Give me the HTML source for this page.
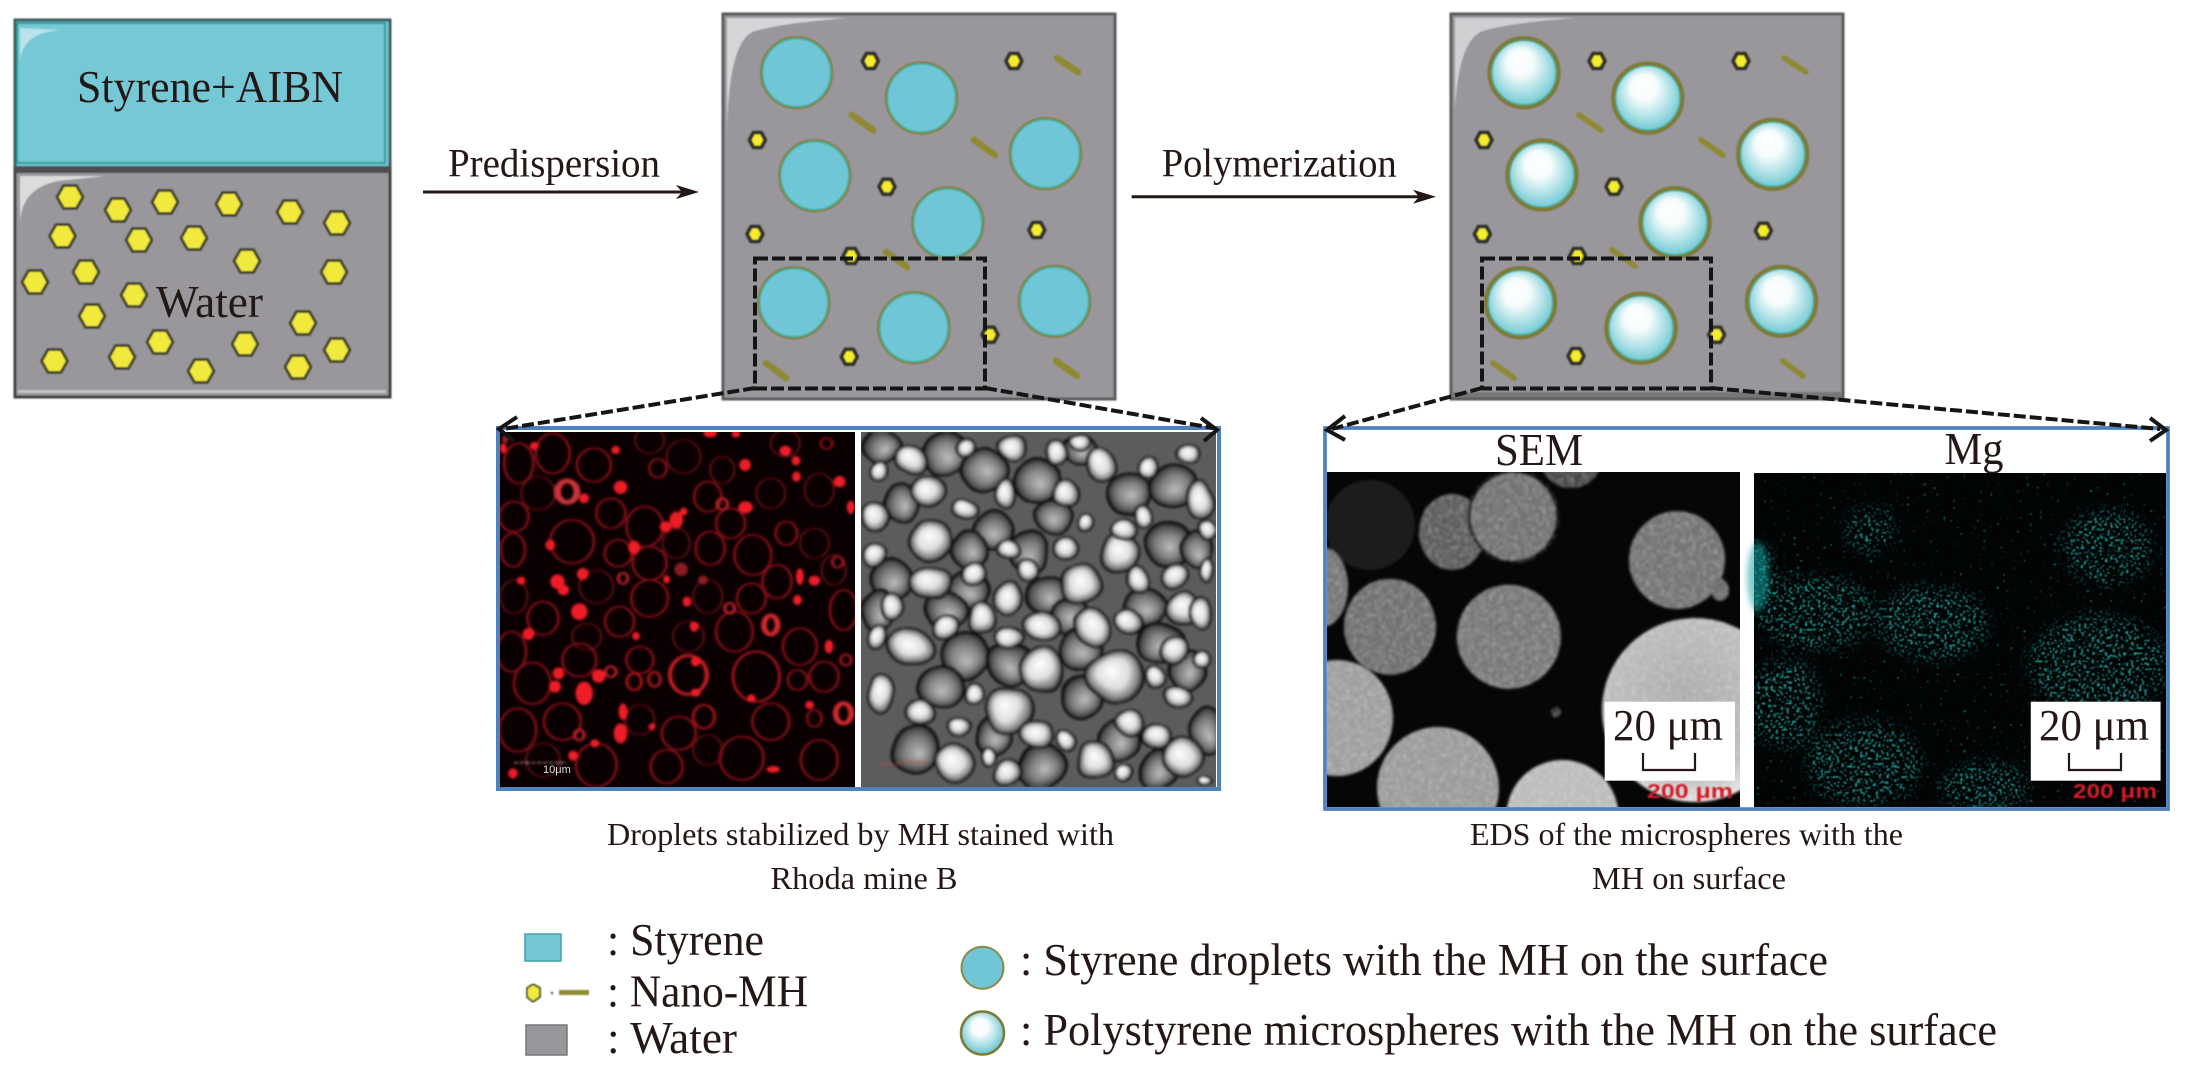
<!DOCTYPE html>
<html>
<head>
<meta charset="utf-8">
<style>
html,body{margin:0;padding:0;background:#fff;width:2185px;height:1073px;overflow:hidden}
svg{display:block}
text{font-family:"Liberation Serif",serif;fill:#231815}
</style>
</head>
<body>
<svg width="2185" height="1073" viewBox="0 0 2185 1073" xmlns="http://www.w3.org/2000/svg">
<defs>
  <polygon id="H" points="-13,0 -6.5,-11.5 6.5,-11.5 13,0 6.5,11.5 -6.5,11.5" fill="#f2e93c" stroke="#45442a" stroke-width="3" stroke-linejoin="round"/>
  <polygon id="h" points="-8,0 -4,-7.5 4,-7.5 8,0 4,7.5 -4,7.5" fill="#f5ec2e" stroke="#33332c" stroke-width="4" stroke-linejoin="round"/>
  <g id="D"><circle r="35.5" fill="#70c6d6" stroke="#85803c" stroke-width="2.5"/><circle r="34" fill="none" stroke="#2db39c" stroke-width="1.3"/></g>
  <radialGradient id="sph" cx="50%" cy="50%" r="60%" fx="42%" fy="28%">
    <stop offset="0" stop-color="#fff"/><stop offset=".32" stop-color="#f6fcfc"/><stop offset=".72" stop-color="#93d6de"/><stop offset="1" stop-color="#45b8c4"/>
  </radialGradient>
  <g id="P"><circle r="34.5" fill="url(#sph)" stroke="#7f7a30" stroke-width="4.5"/><circle r="32" fill="none" stroke="#2fb3a0" stroke-width="1.2"/></g>
  <radialGradient id="bub" cx="50%" cy="50%" r="50%" fx="42%" fy="38%">
    <stop offset="0" stop-color="#fff"/><stop offset=".55" stop-color="#dedede"/><stop offset=".85" stop-color="#808080"/><stop offset="1" stop-color="#1a1a1a"/>
  </radialGradient>
  <radialGradient id="bub2" cx="50%" cy="50%" r="50%" fx="55%" fy="60%">
    <stop offset="0" stop-color="#bcbcbc"/><stop offset=".55" stop-color="#808080"/><stop offset=".85" stop-color="#4c4c4c"/><stop offset="1" stop-color="#0c0c0c"/>
  </radialGradient>
  <radialGradient id="semF" cx="45%" cy="42%" r="60%">
    <stop offset="0" stop-color="#a9a9a9"/><stop offset=".75" stop-color="#bcbcbc"/><stop offset="1" stop-color="#e6e6e6"/>
  </radialGradient>
  <clipPath id="cR"><rect x="500" y="432" width="355" height="355"/></clipPath>
  <clipPath id="cG"><rect x="861" y="432" width="355" height="355"/></clipPath>
  <clipPath id="cS"><rect x="1327" y="472" width="413" height="335"/></clipPath>
  <filter id="b0" x="-2%" y="-2%" width="104%" height="104%"><feGaussianBlur stdDeviation=".7"/></filter>
  <filter id="b1" x="-5%" y="-5%" width="110%" height="110%"><feGaussianBlur stdDeviation="1.2"/></filter>
  <filter id="b2" x="-20%" y="-20%" width="140%" height="140%"><feGaussianBlur stdDeviation="3"/></filter>
  <filter id="bt" x="-5%" y="-20%" width="110%" height="140%"><feGaussianBlur stdDeviation=".7"/></filter>
  <filter id="warp" filterUnits="userSpaceOnUse" x="861" y="432" width="355" height="355" color-interpolation-filters="sRGB">
    <feTurbulence type="fractalNoise" baseFrequency=".035" numOctaves="1" seed="11" result="n"/>
    <feDisplacementMap in="SourceGraphic" in2="n" scale="10" xChannelSelector="R" yChannelSelector="G" result="d"/>
    <feGaussianBlur in="d" stdDeviation="1.2"/>
  </filter>
  <filter id="dots" filterUnits="userSpaceOnUse" x="1754" y="473" width="412" height="334" color-interpolation-filters="sRGB">
    <feGaussianBlur in="SourceGraphic" stdDeviation="7" result="bl"/>
    <feTurbulence type="fractalNoise" baseFrequency=".38" numOctaves="1" seed="7" result="n"/>
    <feColorMatrix in="n" type="matrix" values="0 0 0 0 .1  0 0 0 0 .6  0 0 0 0 .58  9 0 0 0 -4.9" result="d"/>
    <feComposite in="d" in2="bl" operator="in" result="c"/>
    <feGaussianBlur in="c" stdDeviation=".6"/>
  </filter>
  <filter id="sparse" filterUnits="userSpaceOnUse" x="1754" y="473" width="412" height="334" color-interpolation-filters="sRGB">
    <feTurbulence type="fractalNoise" baseFrequency=".3" numOctaves="1" seed="23" result="n"/>
    <feColorMatrix in="n" type="matrix" values="0 0 0 0 .08  0 0 0 0 .42  0 0 0 0 .42  12 0 0 0 -8.4" result="d"/>
    <feGaussianBlur in="d" stdDeviation=".6"/>
  </filter>
  <filter id="grain" x="0" y="0" width="100%" height="100%" color-interpolation-filters="sRGB">
    <feTurbulence type="fractalNoise" baseFrequency=".28" numOctaves="2" seed="4" result="n"/>
    <feColorMatrix in="n" type="matrix" values="0 0 0 0 1  0 0 0 0 1  0 0 0 0 1  1 0 0 0 -.42" result="w"/>
    <feComposite in="w" in2="SourceAlpha" operator="in" result="g"/>
    <feGaussianBlur in="g" stdDeviation=".7" result="gb"/>
    <feMerge><feMergeNode in="SourceGraphic"/><feMergeNode in="gb"/></feMerge>
  </filter>
</defs>

<g filter="url(#b0)">
<!-- Box 1 -->
<rect x="15" y="20" width="375" height="148" fill="#74c8d6" stroke="#3f5a5c" stroke-width="3"/>
<rect x="17" y="23" width="368" height="140" fill="none" stroke="#1f9a97" stroke-width="2"/>
<path d="M20 62 Q22 32 62 30 L20 28Z" fill="#b8e3ea"/>
<rect x="15" y="168" width="375" height="229" fill="#99979b" stroke="#404040" stroke-width="3"/>
<rect x="15" y="166" width="375" height="7" fill="#504d50"/>
<rect x="18" y="390" width="368" height="3" fill="#cfcfcf" opacity=".8"/>
<path d="M20 222 Q22 188 58 181 L105 176 L20 176Z" fill="#dcdcdc"/>
<use href="#H" x="70" y="197"/><use href="#H" x="118" y="210"/><use href="#H" x="165" y="202"/><use href="#H" x="229" y="204"/><use href="#H" x="290" y="212"/><use href="#H" x="337" y="223"/><use href="#H" x="62.5" y="236"/><use href="#H" x="139" y="240"/><use href="#H" x="194" y="238"/><use href="#H" x="247" y="261"/><use href="#H" x="334" y="272"/><use href="#H" x="86" y="272"/><use href="#H" x="35" y="282"/><use href="#H" x="134" y="295"/><use href="#H" x="92" y="316"/><use href="#H" x="303" y="323"/><use href="#H" x="160" y="342"/><use href="#H" x="245" y="344"/><use href="#H" x="337" y="350"/><use href="#H" x="54.5" y="361"/><use href="#H" x="122" y="357"/><use href="#H" x="201" y="371"/><use href="#H" x="298" y="367"/>

<!-- Box 2 -->
<rect x="723" y="14" width="392" height="385" fill="#99979b" stroke="#5a5a5a" stroke-width="3"/>
<path d="M727 135 Q728 45 752 32 Q775 24 846 18 L727 18Z" fill="#d6d6d8"/>
<use href="#D" x="796.6" y="72.7"/><use href="#D" x="921.5" y="98"/><use href="#D" x="814.8" y="175.7"/><use href="#D" x="1045.5" y="153.7"/><use href="#D" x="947.8" y="223"/><use href="#D" x="793.8" y="302.7"/><use href="#D" x="913.9" y="327.7"/><use href="#D" x="1054.5" y="301.3"/>
<use href="#h" x="870.3" y="61"/><use href="#h" x="1013.9" y="61"/><use href="#h" x="757.4" y="140"/><use href="#h" x="887" y="186.7"/><use href="#h" x="755" y="234"/><use href="#h" x="1036.8" y="230"/><use href="#h" x="851.2" y="256"/><use href="#h" x="990" y="334.7"/><use href="#h" x="849.3" y="356.7"/>
<g stroke="#8f8a30" stroke-width="7" stroke-linecap="round">
<line x1="1057" y1="58" x2="1078" y2="72"/><line x1="852" y1="115" x2="873" y2="130"/><line x1="974" y1="140" x2="995" y2="155"/><line x1="886" y1="252" x2="907" y2="267"/><line x1="766" y1="363" x2="786" y2="378"/><line x1="1056" y1="361" x2="1077" y2="376"/>
</g>

<!-- Box 3 -->
<rect x="1451" y="14" width="392" height="385" fill="#99979b" stroke="#5a5a5a" stroke-width="3"/>
<path d="M1455 110 Q1458 45 1480 32 Q1500 24 1574 18 L1455 18Z" fill="#d0d0d2"/>
<rect x="1453" y="392" width="388" height="6" fill="#6a6a6a" opacity=".7"/>
<use href="#P" x="1524" y="72.7"/><use href="#P" x="1647.8" y="98"/><use href="#P" x="1542" y="175"/><use href="#P" x="1772.7" y="154.3"/><use href="#P" x="1675" y="222.7"/><use href="#P" x="1520.5" y="302.7"/><use href="#P" x="1641" y="328.3"/><use href="#P" x="1781.5" y="301.3"/>
<use href="#h" x="1597" y="61"/><use href="#h" x="1741" y="61"/><use href="#h" x="1484" y="140"/><use href="#h" x="1614" y="186.7"/><use href="#h" x="1482.4" y="234"/><use href="#h" x="1763.4" y="230.7"/><use href="#h" x="1577.6" y="256"/><use href="#h" x="1716.6" y="334.7"/><use href="#h" x="1576" y="356"/>
<g stroke="#8f8a30" stroke-width="6" stroke-linecap="round">
<line x1="1784" y1="58" x2="1806" y2="72"/><line x1="1579" y1="115" x2="1601" y2="130"/><line x1="1701" y1="140" x2="1723" y2="155"/><line x1="1612" y1="250" x2="1635" y2="266"/><line x1="1493" y1="363" x2="1514" y2="378"/><line x1="1783" y1="361" x2="1803" y2="376"/>
</g>
</g>
<rect x="755" y="258.5" width="230" height="130" fill="none" stroke="#151515" stroke-width="4" stroke-dasharray="13 4"/>
<rect x="1482" y="258.5" width="229" height="130" fill="none" stroke="#151515" stroke-width="4" stroke-dasharray="13 4"/>

<!-- Labels box 1 -->
<text x="77" y="102" font-size="46" textLength="266" lengthAdjust="spacingAndGlyphs">Styrene+AIBN</text>
<text x="156" y="317" font-size="45" textLength="107" lengthAdjust="spacingAndGlyphs">Water</text>

<!-- Arrow 1 -->
<text x="448" y="176.5" font-size="40" textLength="212" lengthAdjust="spacingAndGlyphs">Predispersion</text>
<line x1="423" y1="192" x2="685" y2="192" stroke="#231815" stroke-width="3"/>
<polygon points="699,192 676,185 682,192 676,199" fill="#231815"/>

<!-- Arrow 2 -->
<text x="1161.7" y="176.5" font-size="40" textLength="235" lengthAdjust="spacingAndGlyphs">Polymerization</text>
<line x1="1131.6" y1="196.7" x2="1422" y2="196.7" stroke="#231815" stroke-width="3"/>
<polygon points="1436,196.7 1413,189.7 1419,196.7 1413,203.7" fill="#231815"/>

<!-- Left micrograph panel -->
<rect x="498" y="428" width="721" height="361" fill="#fff" stroke="#4f81bd" stroke-width="4"/>
<rect x="500" y="432" width="355" height="355" fill="#0a0002"/>
<g clip-path="url(#cR)">
<g filter="url(#b1)">
<g transform="translate(480,410) scale(.4847,.33333)">
<g fill="none" stroke="#4a080e" stroke-width="6">
<ellipse cx="420" cy="140" rx="35" ry="50"/><ellipse cx="120" cy="250" rx="35" ry="50"/><ellipse cx="600" cy="250" rx="30" ry="45"/><ellipse cx="700" cy="240" rx="30" ry="50"/><ellipse cx="405" cy="400" rx="28" ry="45"/><ellipse cx="240" cy="530" rx="35" ry="50"/><ellipse cx="470" cy="560" rx="30" ry="50"/><ellipse cx="690" cy="400" rx="30" ry="45"/><ellipse cx="730" cy="480" rx="25" ry="45"/><ellipse cx="430" cy="680" rx="32" ry="45"/><ellipse cx="220" cy="680" rx="30" ry="40"/><ellipse cx="70" cy="560" rx="28" ry="50"/><ellipse cx="330" cy="930" rx="30" ry="45"/><ellipse cx="470" cy="1020" rx="30" ry="45"/><ellipse cx="130" cy="1050" rx="35" ry="50"/><ellipse cx="630" cy="100" rx="30" ry="40"/><ellipse cx="500" cy="180" rx="25" ry="40"/><ellipse cx="350" cy="90" rx="30" ry="40"/>
</g>
<g fill="none" stroke="#7e0e16" stroke-width="6">
<ellipse cx="150" cy="130" rx="35" ry="60"/><ellipse cx="235" cy="165" rx="35" ry="50"/><ellipse cx="80" cy="160" rx="30" ry="60"/><ellipse cx="367" cy="175" rx="18" ry="28"/><ellipse cx="470" cy="260" rx="28" ry="45"/><ellipse cx="340" cy="350" rx="38" ry="60"/><ellipse cx="190" cy="395" rx="45" ry="65"/><ellipse cx="70" cy="320" rx="30" ry="45"/><ellipse cx="270" cy="310" rx="30" ry="45"/><ellipse cx="517" cy="340" rx="30" ry="45"/><ellipse cx="285" cy="430" rx="28" ry="40"/><ellipse cx="350" cy="460" rx="35" ry="50"/><ellipse cx="475" cy="415" rx="30" ry="50"/><ellipse cx="563" cy="435" rx="38" ry="60"/><ellipse cx="632" cy="370" rx="22" ry="35"/><ellipse cx="68" cy="420" rx="25" ry="50"/><ellipse cx="350" cy="565" rx="38" ry="55"/><ellipse cx="130" cy="625" rx="32" ry="50"/><ellipse cx="288" cy="635" rx="30" ry="45"/><ellipse cx="525" cy="665" rx="38" ry="60"/><ellipse cx="613" cy="515" rx="30" ry="50"/><ellipse cx="750" cy="600" rx="28" ry="60"/><ellipse cx="660" cy="710" rx="35" ry="55"/><ellipse cx="560" cy="565" rx="30" ry="45"/><ellipse cx="65" cy="725" rx="30" ry="60"/><ellipse cx="205" cy="750" rx="35" ry="50"/><ellipse cx="330" cy="750" rx="28" ry="40"/><ellipse cx="430" cy="795" rx="38" ry="58" stroke="#c01a24" stroke-width="9"/><ellipse cx="570" cy="800" rx="48" ry="75" stroke="#a8141c"/><ellipse cx="108" cy="820" rx="38" ry="62"/><ellipse cx="78" cy="960" rx="38" ry="65"/><ellipse cx="170" cy="935" rx="38" ry="55"/><ellipse cx="240" cy="1065" rx="42" ry="65"/><ellipse cx="385" cy="1070" rx="33" ry="50"/><ellipse cx="540" cy="1045" rx="45" ry="65"/><ellipse cx="700" cy="1050" rx="38" ry="60"/><ellipse cx="600" cy="935" rx="38" ry="55"/><ellipse cx="410" cy="970" rx="35" ry="50"/><ellipse cx="462" cy="920" rx="22" ry="35" stroke="#a8141c"/><ellipse cx="710" cy="800" rx="30" ry="45"/><ellipse cx="655" cy="810" rx="20" ry="30"/><ellipse cx="318" cy="815" rx="15" ry="25" stroke="#b0141e"/><ellipse cx="360" cy="808" rx="12" ry="22" stroke="#b0141e"/><ellipse cx="690" cy="925" rx="15" ry="25"/><ellipse cx="180" cy="245" rx="20" ry="32" stroke="#c8303a" stroke-width="14"/><ellipse cx="750" cy="910" rx="16" ry="30" stroke="#d0282f" stroke-width="12"/><ellipse cx="600" cy="645" rx="14" ry="28" stroke="#d0282f" stroke-width="12"/><ellipse cx="715" cy="100" rx="12" ry="16"/><ellipse cx="515" cy="595" rx="10" ry="16" stroke="#c0202a"/><ellipse cx="270" cy="785" rx="11" ry="16" stroke="#c0202a"/><ellipse cx="205" cy="975" rx="10" ry="16" stroke="#c0202a"/><ellipse cx="295" cy="505" rx="10" ry="16" stroke="#c0202a"/><ellipse cx="500" cy="282" rx="11" ry="17" stroke="#c0202a"/><ellipse cx="738" cy="456" rx="11" ry="17" stroke="#a01820"/><ellipse cx="755" cy="750" rx="11" ry="16" stroke="#a01820"/>
</g>
<g fill="#ee1c26">
<ellipse cx="290" cy="232" rx="14" ry="20"/><ellipse cx="215" cy="265" rx="10" ry="15"/><ellipse cx="145" cy="405" rx="10" ry="16"/><ellipse cx="318" cy="412" rx="12" ry="20"/><ellipse cx="383" cy="350" rx="12" ry="16"/><ellipse cx="405" cy="330" rx="14" ry="25"/><ellipse cx="420" cy="305" rx="8" ry="12"/><ellipse cx="548" cy="292" rx="15" ry="18"/><ellipse cx="547" cy="165" rx="12" ry="18"/><ellipse cx="630" cy="122" rx="12" ry="15"/><ellipse cx="652" cy="152" rx="9" ry="14"/><ellipse cx="653" cy="200" rx="9" ry="15"/><ellipse cx="742" cy="215" rx="12" ry="17"/><ellipse cx="765" cy="292" rx="8" ry="20"/><ellipse cx="212" cy="492" rx="12" ry="18"/><ellipse cx="160" cy="515" rx="15" ry="22"/><ellipse cx="172" cy="540" rx="12" ry="16"/><ellipse cx="85" cy="512" rx="9" ry="12"/><ellipse cx="205" cy="605" rx="17" ry="25"/><ellipse cx="100" cy="672" rx="12" ry="18"/><ellipse cx="322" cy="678" rx="8" ry="12"/><ellipse cx="442" cy="650" rx="9" ry="15"/><ellipse cx="427" cy="575" rx="9" ry="15"/><ellipse cx="655" cy="570" rx="9" ry="15"/><ellipse cx="660" cy="500" rx="8" ry="25"/><ellipse cx="690" cy="512" rx="12" ry="15"/><ellipse cx="720" cy="710" rx="9" ry="20"/><ellipse cx="162" cy="790" rx="12" ry="18"/><ellipse cx="245" cy="798" rx="14" ry="20"/><ellipse cx="155" cy="830" rx="12" ry="18"/><ellipse cx="215" cy="850" rx="18" ry="35"/><ellipse cx="295" cy="905" rx="9" ry="25"/><ellipse cx="290" cy="970" rx="14" ry="30"/><ellipse cx="355" cy="950" rx="7" ry="10"/><ellipse cx="237" cy="1000" rx="9" ry="12"/><ellipse cx="192" cy="1037" rx="10" ry="15"/><ellipse cx="68" cy="1090" rx="10" ry="15"/><ellipse cx="605" cy="1078" rx="14" ry="10"/><ellipse cx="560" cy="865" rx="9" ry="12"/><ellipse cx="680" cy="885" rx="9" ry="12"/><ellipse cx="112" cy="108" rx="9" ry="12"/><ellipse cx="280" cy="120" rx="9" ry="12"/><ellipse cx="475" cy="70" rx="14" ry="12"/><ellipse cx="528" cy="72" rx="9" ry="10"/><ellipse cx="48" cy="115" rx="7" ry="15"/><ellipse cx="385" cy="508" rx="7" ry="12"/><ellipse cx="445" cy="755" rx="10" ry="14"/><ellipse cx="445" cy="848" rx="10" ry="12"/>
</g>
<g fill="#8c1a20"><ellipse cx="415" cy="478" rx="14" ry="20"/><ellipse cx="460" cy="510" rx="10" ry="14"/><ellipse cx="52" cy="88" rx="7" ry="12"/></g>
<line x1="70" y1="1058" x2="180" y2="1058" stroke="#b08080" stroke-width="4" stroke-dasharray="8 4"/>
</g></g>
<text x="543" y="773" font-size="11" style="fill:#ddd;font-family:'Liberation Sans',sans-serif">10μm</text>
</g>
<rect x="855" y="432" width="6" height="355" fill="#fff"/>

<rect x="861" y="432" width="355" height="355" fill="#5c5c5c"/>
<g clip-path="url(#cG)">
<g filter="url(#warp)">
<rect x="850" y="420" width="380" height="380" fill="#5c5c5c"/>
<g transform="translate(480,410) scale(.4847,.33333)">
<g fill="url(#bub2)" stroke="#0a0a0a" stroke-width="4">
<ellipse cx="960" cy="130" rx="48" ry="65"/><ellipse cx="1040" cy="180" rx="48" ry="65"/><ellipse cx="1150" cy="210" rx="48" ry="65"/><ellipse cx="1340" cy="250" rx="48" ry="70"/><ellipse cx="1430" cy="230" rx="48" ry="65"/><ellipse cx="870" cy="280" rx="38" ry="55"/><ellipse cx="1060" cy="360" rx="40" ry="60"/><ellipse cx="1180" cy="320" rx="38" ry="55"/><ellipse cx="1420" cy="400" rx="48" ry="70"/><ellipse cx="1480" cy="420" rx="32" ry="55"/><ellipse cx="1130" cy="430" rx="43" ry="65"/><ellipse cx="1010" cy="420" rx="38" ry="60"/><ellipse cx="850" cy="510" rx="43" ry="60"/><ellipse cx="1010" cy="540" rx="43" ry="60"/><ellipse cx="1170" cy="560" rx="43" ry="60"/><ellipse cx="960" cy="600" rx="43" ry="55"/><ellipse cx="820" cy="600" rx="35" ry="65"/><ellipse cx="1375" cy="590" rx="43" ry="60"/><ellipse cx="1220" cy="620" rx="38" ry="60"/><ellipse cx="1400" cy="700" rx="48" ry="60"/><ellipse cx="1000" cy="740" rx="48" ry="75"/><ellipse cx="1090" cy="760" rx="48" ry="65"/><ellipse cx="1240" cy="720" rx="43" ry="60"/><ellipse cx="950" cy="830" rx="48" ry="60"/><ellipse cx="1240" cy="860" rx="43" ry="65"/><ellipse cx="1460" cy="780" rx="38" ry="60"/><ellipse cx="1320" cy="990" rx="43" ry="60"/><ellipse cx="1060" cy="980" rx="38" ry="60"/><ellipse cx="900" cy="1020" rx="48" ry="70"/><ellipse cx="1160" cy="1070" rx="48" ry="70"/><ellipse cx="1400" cy="1080" rx="38" ry="60"/><ellipse cx="1500" cy="960" rx="32" ry="70"/><ellipse cx="1240" cy="120" rx="38" ry="45"/><ellipse cx="830" cy="110" rx="43" ry="50"/>
</g>
<g fill="url(#bub)" stroke="#0a0a0a" stroke-width="3">
<ellipse cx="890" cy="150" rx="30" ry="45"/><ellipse cx="925" cy="240" rx="35" ry="50"/><ellipse cx="825" cy="180" rx="20" ry="30"/><ellipse cx="1085" cy="250" rx="20" ry="45"/><ellipse cx="1210" cy="250" rx="28" ry="40"/><ellipse cx="1280" cy="165" rx="30" ry="50"/><ellipse cx="1485" cy="270" rx="28" ry="60"/><ellipse cx="1380" cy="170" rx="20" ry="30"/><ellipse cx="815" cy="320" rx="28" ry="45"/><ellipse cx="930" cy="390" rx="45" ry="65"/><ellipse cx="1210" cy="410" rx="25" ry="35"/><ellipse cx="1320" cy="430" rx="40" ry="60"/><ellipse cx="1000" cy="300" rx="28" ry="30"/><ellipse cx="1250" cy="340" rx="18" ry="30"/><ellipse cx="815" cy="435" rx="25" ry="35"/><ellipse cx="1090" cy="565" rx="30" ry="50"/><ellipse cx="930" cy="520" rx="45" ry="50"/><ellipse cx="1240" cy="520" rx="45" ry="60"/><ellipse cx="1355" cy="510" rx="25" ry="40"/><ellipse cx="1435" cy="500" rx="25" ry="40"/><ellipse cx="1450" cy="600" rx="35" ry="50"/><ellipse cx="1035" cy="625" rx="30" ry="50"/><ellipse cx="1265" cy="650" rx="35" ry="55"/><ellipse cx="1340" cy="635" rx="30" ry="35"/><ellipse cx="890" cy="710" rx="50" ry="55"/><ellipse cx="1160" cy="780" rx="45" ry="70"/><ellipse cx="1310" cy="800" rx="60" ry="80"/><ellipse cx="1395" cy="805" rx="22" ry="35"/><ellipse cx="830" cy="850" rx="25" ry="60"/><ellipse cx="910" cy="910" rx="30" ry="40"/><ellipse cx="1020" cy="850" rx="20" ry="30"/><ellipse cx="1090" cy="900" rx="50" ry="70"/><ellipse cx="1150" cy="970" rx="35" ry="45"/><ellipse cx="985" cy="950" rx="25" ry="30"/><ellipse cx="980" cy="1060" rx="40" ry="60"/><ellipse cx="1050" cy="1040" rx="15" ry="25"/><ellipse cx="1270" cy="1050" rx="40" ry="60"/><ellipse cx="1395" cy="980" rx="30" ry="40"/><ellipse cx="1450" cy="1040" rx="40" ry="60"/><ellipse cx="1210" cy="990" rx="20" ry="30"/><ellipse cx="1340" cy="940" rx="30" ry="40"/><ellipse cx="1440" cy="860" rx="30" ry="35"/><ellipse cx="1090" cy="1090" rx="30" ry="40"/><ellipse cx="1330" cy="1090" rx="20" ry="30"/><ellipse cx="1495" cy="1115" rx="15" ry="15"/><ellipse cx="850" cy="590" rx="25" ry="40"/><ellipse cx="1160" cy="650" rx="40" ry="40"/><ellipse cx="1090" cy="680" rx="30" ry="30"/><ellipse cx="1020" cy="490" rx="25" ry="30"/><ellipse cx="1330" cy="360" rx="25" ry="30"/><ellipse cx="1500" cy="360" rx="18" ry="30"/><ellipse cx="1500" cy="480" rx="15" ry="40"/><ellipse cx="1490" cy="610" rx="25" ry="50"/><ellipse cx="1430" cy="720" rx="25" ry="40"/><ellipse cx="1490" cy="750" rx="20" ry="30"/><ellipse cx="1370" cy="320" rx="20" ry="30"/><ellipse cx="1100" cy="110" rx="30" ry="40"/><ellipse cx="1000" cy="110" rx="20" ry="30"/><ellipse cx="1190" cy="130" rx="20" ry="35"/><ellipse cx="1240" cy="95" rx="25" ry="25"/><ellipse cx="1460" cy="130" rx="25" ry="30"/><ellipse cx="820" cy="680" rx="20" ry="40"/><ellipse cx="960" cy="650" rx="25" ry="35"/><ellipse cx="1090" cy="420" rx="25" ry="30"/><ellipse cx="1130" cy="480" rx="25" ry="35"/>
</g>
<line x1="825" y1="1058" x2="920" y2="1058" stroke="#c84040" stroke-width="4" stroke-dasharray="8 4"/>
</g></g>
</g>
<rect x="498" y="428" width="721" height="361" fill="none" stroke="#4f81bd" stroke-width="4"/>

<!-- Right EDS panel -->
<rect x="1325" y="428" width="843" height="381" fill="#fff" stroke="#4f81bd" stroke-width="3.5"/>
<text x="1495" y="465" font-size="46" textLength="88" lengthAdjust="spacingAndGlyphs">SEM</text>
<text x="1944.5" y="464" font-size="46" textLength="59" lengthAdjust="spacingAndGlyphs">Mg</text>

<rect x="1327" y="472" width="413" height="335" fill="#060606"/>
<g clip-path="url(#cS)">
<g filter="url(#b1)">
<ellipse cx="1370" cy="525" rx="45" ry="45" fill="#1c1c1c"/>
<g filter="url(#grain)">
<ellipse cx="1571" cy="458" rx="31" ry="30" fill="#444"/>
<ellipse cx="1452" cy="532" rx="33" ry="38" fill="#585858"/>
<ellipse cx="1513.3" cy="516.7" rx="44" ry="45" fill="#6e6e6e" stroke="#060606" stroke-width="3"/>
<ellipse cx="1677" cy="560" rx="48" ry="49" fill="#707070"/>
<ellipse cx="1322" cy="587" rx="26" ry="40" fill="#727272"/>
<ellipse cx="1390" cy="626.7" rx="46" ry="48" fill="#6c6c6c"/>
<ellipse cx="1508.8" cy="636.7" rx="52" ry="52" fill="#747474"/>
<ellipse cx="1695" cy="710" rx="93" ry="92" fill="url(#semF)"/>
<ellipse cx="1337" cy="718" rx="56" ry="58" fill="#9c9c9c"/>
<ellipse cx="1438" cy="788" rx="61" ry="61" fill="#989898"/>
<ellipse cx="1562.4" cy="816" rx="56" ry="56" fill="#bababa"/>
<ellipse cx="1720" cy="590" rx="9" ry="11" fill="#666"/>
<ellipse cx="1556" cy="712" rx="5" ry="5" fill="#333"/>
</g>
</g>
</g>
<rect x="1740" y="472" width="14" height="336" fill="#fff"/>
<rect x="1754" y="473" width="412" height="334" fill="#020404"/>
<rect x="1754" y="473" width="412" height="334" fill="#000" filter="url(#sparse)"/>
<g filter="url(#dots)">
<ellipse cx="1870" cy="530" rx="25" ry="22" fill="#000"/>
<ellipse cx="2107" cy="547" rx="45" ry="37" fill="#000"/>
<ellipse cx="1816" cy="613" rx="59" ry="37" fill="#000"/>
<ellipse cx="1932" cy="623" rx="56" ry="37" fill="#000"/>
<ellipse cx="1760" cy="577" rx="15" ry="35" fill="#000"/>
<ellipse cx="2098" cy="665" rx="70" ry="50" fill="#000"/>
<ellipse cx="1785" cy="703" rx="35" ry="45" fill="#000"/>
<ellipse cx="1864" cy="763" rx="57" ry="42" fill="#000"/>
<ellipse cx="1985" cy="787" rx="45" ry="25" fill="#000"/>
</g>
<ellipse cx="1758" cy="577" rx="11" ry="35" fill="#19a4a4" opacity=".55" filter="url(#b2)"/>
<rect x="1325" y="428" width="843" height="381" fill="none" stroke="#4f81bd" stroke-width="3.5"/>

<!-- Red scale labels -->
<g filter="url(#bt)">
<text x="1647" y="798" font-size="20" font-weight="bold" textLength="86" lengthAdjust="spacingAndGlyphs" style="fill:#d41a28;font-family:'Liberation Sans',sans-serif">200 μm</text>
<text x="2073" y="798" font-size="20" font-weight="bold" textLength="84" lengthAdjust="spacingAndGlyphs" style="fill:#d41a28;font-family:'Liberation Sans',sans-serif">200 μm</text>
</g>
<!-- Scale boxes -->
<rect x="1604.7" y="701.7" width="130.3" height="79" fill="#fff"/>
<text x="1613" y="740" font-size="44" textLength="110" lengthAdjust="spacingAndGlyphs">20 μm</text>
<path d="M1643 753 V770 H1695 V753" fill="none" stroke="#231815" stroke-width="2.2"/>
<rect x="2030.8" y="701.7" width="129.8" height="79" fill="#fff"/>
<text x="2039" y="740" font-size="44" textLength="110" lengthAdjust="spacingAndGlyphs">20 μm</text>
<path d="M2069 753 V770 H2121 V753" fill="none" stroke="#231815" stroke-width="2.2"/>

<!-- Dashed zoom lines -->
<g fill="none" stroke="#151515" stroke-width="4">
<g stroke-dasharray="12 4">
<line x1="755" y1="388" x2="503" y2="429"/>
<line x1="985" y1="388" x2="1213" y2="428"/>
<line x1="1482" y1="388" x2="1332" y2="429"/>
<line x1="1711" y1="388" x2="2160" y2="429"/>
</g>
<polyline points="517,417 499,429 514,441"/>
<polyline points="1201,418 1217,430 1204,441"/>
<polyline points="1345,416 1327,430 1345,440"/>
<polyline points="2150,418 2166,430 2150,441"/>
</g>

<!-- Captions -->
<text x="607" y="845" font-size="32" textLength="507" lengthAdjust="spacingAndGlyphs">Droplets stabilized by MH stained with</text>
<text x="770.5" y="889" font-size="32" textLength="187" lengthAdjust="spacingAndGlyphs">Rhoda mine B</text>
<text x="1470" y="845" font-size="32" textLength="433" lengthAdjust="spacingAndGlyphs">EDS of the microspheres with the</text>
<text x="1592" y="889" font-size="32" textLength="194" lengthAdjust="spacingAndGlyphs">MH on surface</text>

<!-- Legend -->
<rect x="525" y="934" width="36" height="27" fill="#72c6d5" stroke="#3fa4aa" stroke-width="1.5"/>
<text x="607" y="955" font-size="45" textLength="157" lengthAdjust="spacingAndGlyphs">: Styrene</text>
<g filter="url(#b0)">
<polygon points="533,984 540,988 540,997 533,1002 527,997 527,988" fill="#f2e93c" stroke="#55552f" stroke-width="2"/>
<circle cx="552" cy="993" r="1.2" fill="#444"/>
<line x1="559" y1="992.5" x2="589" y2="992.5" stroke="#8f8a30" stroke-width="5"/>
</g>
<text x="607" y="1006.5" font-size="45" textLength="201" lengthAdjust="spacingAndGlyphs">: Nano-MH</text>
<rect x="526" y="1025" width="41" height="30" fill="#99979b" stroke="#777" stroke-width="1.5"/>
<text x="607" y="1053" font-size="45" textLength="130" lengthAdjust="spacingAndGlyphs">: Water</text>

<circle cx="982.5" cy="967.7" r="21" fill="#70c6d6" stroke="#8a8a4a" stroke-width="2"/>
<text x="1020" y="975" font-size="45" textLength="808" lengthAdjust="spacingAndGlyphs">: Styrene droplets with the MH on the surface</text>
<circle cx="982.5" cy="1033" r="21.5" fill="url(#sph)" stroke="#7f7a38" stroke-width="2.5"/>
<text x="1020" y="1045" font-size="45" textLength="977" lengthAdjust="spacingAndGlyphs">: Polystyrene microspheres with the MH on the surface</text>
</svg>
</body>
</html>
